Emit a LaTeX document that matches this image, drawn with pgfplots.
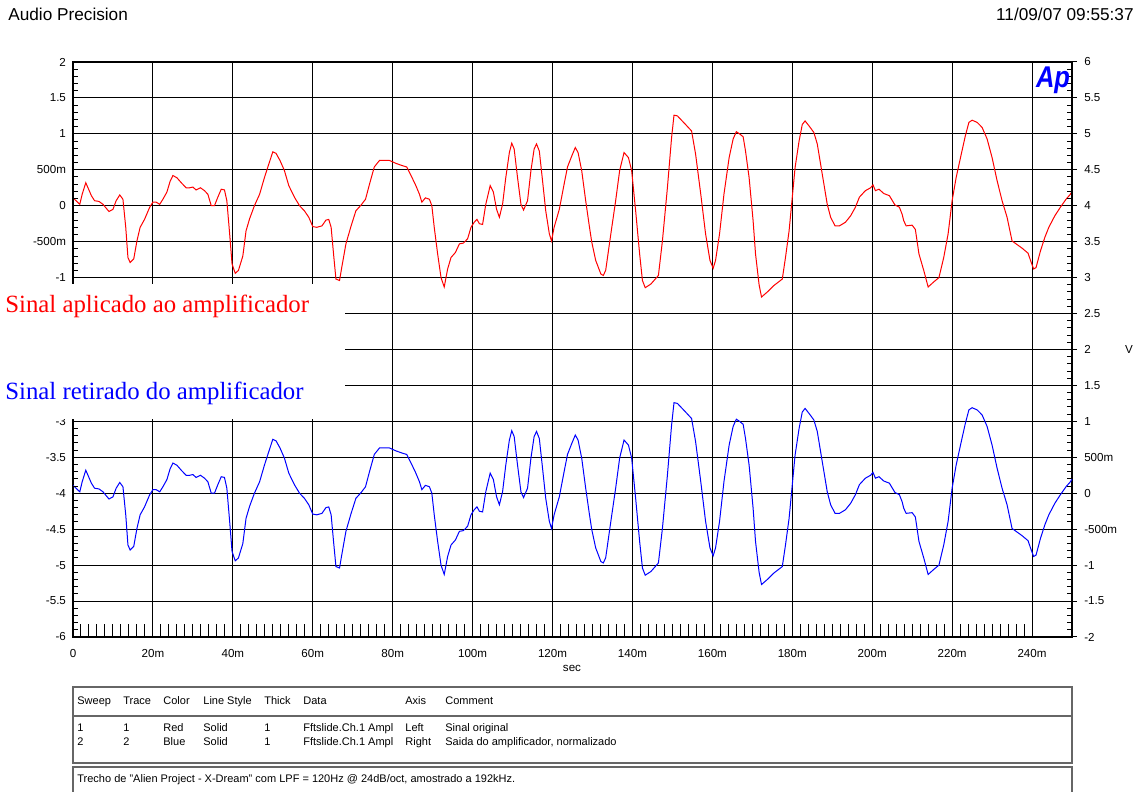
\documentclass[border=0pt]{standalone}
\usepackage{pgfplots}
\pgfplotsset{compat=1.18}
\usepackage{pgfplotstable}
\usepackage{fontspec}
\setmainfont{Liberation Sans}
\newfontfamily\tnr{Liberation Serif}

% t in ms, amplitude in V (same trace for both sweeps)
\pgfplotstableread{
t v
0 0.11
1.7 0.02
2.3 0.16
3.2 0.32
3.75 0.25
4.6 0.14
5.4 0.07
6.5 0.06
7.5 0.02
9 -0.08
10 -0.05
10.8 0.07
11.7 0.15
12.5 0.09
13.2 -0.30
13.75 -0.72
14.3 -0.79
15.2 -0.74
16 -0.49
16.8 -0.30
17.9 -0.19
19.2 -0.02
20 0.05
20.8 0.05
21.7 0.02
22.5 0.09
23.5 0.19
24.3 0.34
25 0.42
26 0.39
27.1 0.32
28.3 0.25
29.2 0.25
30 0.26
30.8 0.22
31.9 0.25
32.9 0.21
33.75 0.16
34.6 0.0
35.4 0.0
36.25 0.12
37.1 0.23
37.9 0.22
38.5 0.07
39.2 -0.39
39.8 -0.81
40.6 -0.94
41.4 -0.90
42.5 -0.70
43.3 -0.35
44.2 -0.18
45.4 0.0
46.7 0.16
47.9 0.39
49 0.58
50 0.75
50.8 0.73
51.8 0.63
52.9 0.49
54 0.28
55.4 0.12
56.7 0.0
57.9 -0.07
59 -0.16
60 -0.29
61 -0.30
62.3 -0.28
63.3 -0.20
64 -0.19
64.6 -0.30
65.2 -0.67
65.8 -1.02
66.7 -1.04
67.25 -0.86
68.3 -0.53
69.6 -0.28
70.8 -0.07
72.1 0.01
73.2 0.09
74.2 0.30
75.4 0.54
76.7 0.63
77.9 0.63
79.2 0.63
80.8 0.59
82.3 0.56
83.5 0.54
84.6 0.42
85.8 0.28
86.7 0.16
87.3 0.05
88.2 0.11
89.2 0.09
89.8 0.0
90.4 -0.30
91.25 -0.67
92.1 -1.0
92.9 -1.13
93.75 -0.88
94.6 -0.72
95.7 -0.65
96.7 -0.53
97.7 -0.52
98.75 -0.46
99.6 -0.30
100.4 -0.23
101.1 -0.19
101.7 -0.25
102.5 -0.26
103.3 0.02
104.4 0.28
105.2 0.19
106 -0.05
106.7 -0.16
107.5 0.02
108.3 0.39
109.2 0.74
109.8 0.87
110.4 0.79
111.25 0.39
112.1 0.02
112.75 -0.06
113.75 0.07
114.6 0.49
115.4 0.79
116 0.86
116.7 0.76
117.5 0.35
118.3 -0.07
119.2 -0.39
119.75 -0.49
120.4 -0.30
121.7 -0.05
122.9 0.30
123.75 0.54
124.8 0.69
125.7 0.81
126.4 0.74
127.3 0.49
128.3 0.07
129.2 -0.28
129.8 -0.50
130.8 -0.76
132.1 -0.95
132.7 -0.97
133.3 -0.90
134.6 -0.39
135.8 0.07
136.8 0.49
137.9 0.74
139 0.67
139.8 0.49
140.8 -0.07
141.8 -0.67
142.5 -1.04
143.2 -1.14
144.6 -1.09
146.5 -0.97
147.5 -0.49
148.75 0.25
149.8 0.95
150.4 1.26
151.25 1.25
153.3 1.13
154.8 1.04
155.8 0.72
157.1 0.16
158.3 -0.39
159.4 -0.76
160.2 -0.87
160.8 -0.76
161.8 -0.39
162.9 0.16
164.2 0.67
165.2 0.93
166 1.03
166.8 1.0
167.7 0.96
168.3 0.76
169.2 0.39
170.2 -0.21
170.8 -0.67
171.7 -1.10
172.3 -1.27
173.75 -1.20
175.4 -1.11
177.5 -1.02
178.3 -0.72
179.2 -0.35
179.8 0.0
180.7 0.53
181.7 0.90
182.5 1.13
183.2 1.18
184.2 1.11
185.4 1.02
186.25 0.86
187.5 0.44
188.75 0.02
189.6 -0.16
190.7 -0.28
191.8 -0.28
193.3 -0.23
194.6 -0.14
195.8 -0.02
196.8 0.12
198.3 0.21
199.6 0.25
200.2 0.29
200.8 0.21
201.7 0.23
202.9 0.17
204.3 0.14
205.7 0.01
206.8 -0.02
207.5 -0.12
207.9 -0.21
208.5 -0.28
210 -0.27
210.8 -0.33
211.7 -0.67
212.9 -0.90
214 -1.13
215.4 -1.06
216.7 -1.0
217.9 -0.72
219 -0.39
220 0.07
221 0.39
222.1 0.67
223.3 0.97
224.2 1.16
225 1.19
226.25 1.16
227.5 1.09
228.75 0.93
230 0.67
231.25 0.35
232.5 0.07
233.75 -0.16
235 -0.49
236.25 -0.54
237.5 -0.59
239 -0.66
239.8 -0.79
240.4 -0.88
241 -0.86
242.1 -0.63
243.2 -0.44
244.2 -0.30
245.7 -0.14
247.1 -0.02
248.5 0.09
249.6 0.16
250 0.20
}\sig

\begin{document}
\begin{tikzpicture}
\pgfplotsset{
  apbase/.style={
    scale only axis, width=499.5pt, height=287.5pt,
    at={(0,0)}, anchor=south west,
    xmin=0, xmax=250,
    axis line style={black, line width=0.6pt},
    tick style={black, line width=0.5pt},
    tick label style={font=\fontsize{5.8}{7}\selectfont},
    /pgf/number format/assume math mode=true,
  }
}
% left axis: grid + original signal
\begin{axis}[apbase,
  ymin=-6, ymax=2,
  xtick={0,20,...,240},
  xticklabels={0,20m,40m,60m,80m,100m,120m,140m,160m,180m,200m,220m,240m},
  xticklabel style={yshift=-2.5pt},
  ytick={-6,-5.5,-5,-4.5,-4,-3.5,-3,-2.5,-2,-1.5,-1,-0.5,0,0.5,1,1.5,2},
  yticklabels={-6,-5.5,-5,-4.5,-4,-3.5,-3,,,,-1,-500m,0,500m,1,1.5,2},
  xtick pos=left, ytick pos=left,
  tick align=inside,
  major tick length=0pt,
  grid=major,
  major grid style={black, line width=0.5pt},
]
\addplot[red, line width=0.5pt] table[x=t, y=v] {\sig};
\end{axis}
% right axis: amplifier output
\begin{axis}[apbase,
  ymin=-2, ymax=6,
  hide x axis,
  ytick={-2,-1.5,-1,-0.5,0,0.5,1,1.5,2,2.5,3,3.5,4,4.5,5,5.5,6},
  yticklabels={-2,-1.5,-1,-500m,0,500m,1,1.5,2,2.5,3,3.5,4,4.5,5,5.5,6},
  ytick pos=right, yticklabel pos=right,
  yticklabel style={xshift=2.6pt},
  tick align=inside,
  major tick length=0pt,
]
\addplot[blue, line width=0.5pt] table[x=t, y=v] {\sig};
\end{axis}
% minor ticks of the time axis
\begin{axis}[apbase,
  ymin=0, ymax=1,
  hide y axis,
  xtick={0,20,...,240}, xticklabels={},
  minor x tick num=9,
  xtick pos=left,
  tick align=inside,
  major tick length=0pt, minor tick length=6.5pt,
]
\end{axis}

\begin{scope}[shift={(-36.5pt,318.5pt)}, x=0.5pt, y=-0.5pt]
  % tick combs on both value axes (axis box: x 73..1072, y 62..637)
  \foreach \i in {0,...,80} {
    \pgfmathsetmacro\yy{62+\i*7.1875}
    \pgfmathtruncatemacro\r{mod(\i,5)}
    \ifnum\r=0
      \draw[black, line width=0.5pt] (1072,\yy) -- (1077,\yy);
    \else
      \draw[black, line width=0.5pt] (73,\yy) -- (77.8,\yy);
      \draw[black, line width=0.5pt] (1072,\yy) -- (1067.2,\yy);
    \fi
  }
  % white panel behind the two captions
  \fill[white] (0,284) rectangle (345,419);
  \node[anchor=west, inner sep=0pt, text=red, font=\tnr\fontsize{12.4}{14}\selectfont]
    at (5,306) {Sinal aplicado ao amplificador};
  \node[anchor=west, inner sep=0pt, text=blue, font=\tnr\fontsize{12.4}{14}\selectfont]
    at (5,393) {Sinal retirado do amplificador};
  % header
  \node[anchor=west, inner sep=0pt, font=\fontsize{8.6}{10}\selectfont] at (8,14) {Audio Precision};
  \node[anchor=east, inner sep=0pt, font=\fontsize{8.6}{10}\selectfont] at (1134,14) {11/09/07 09:55:37};
  \node[inner sep=0pt, text=blue, font=\bfseries\itshape\fontsize{15}{17}\selectfont] at (1053,80) {\scalebox{0.85}[1]{Ap}};
  % axis titles
  \node[inner sep=0pt, font=\fontsize{5.8}{7}\selectfont] at (572,668) {sec};
  \node[inner sep=0pt, font=\fontsize{5.8}{7}\selectfont] at (1129,350) {V};
  % sweep table
  \draw[black!60, line width=0.6pt] (73,687) rectangle (1072,763);
  \draw[black!60, line width=0.6pt] (73,716) -- (1072,716);
  \draw[black!60, line width=0.6pt] (73,767) rectangle (1072,800);
  \begin{scope}[every node/.style={anchor=base west, inner sep=0pt, font=\fontsize{5.5}{6.5}\selectfont}]
    \node at (77,705) {Sweep};  \node at (123,705) {Trace}; \node at (163,705) {Color};
    \node at (203,705) {Line Style}; \node at (264,705) {Thick}; \node at (303,705) {Data};
    \node at (405,705) {Axis}; \node at (445,705) {Comment};
    \node at (77,732) {1}; \node at (123,732) {1}; \node at (163,732) {Red};
    \node at (203,732) {Solid}; \node at (264,732) {1}; \node at (303,732) {Fftslide.Ch.1 Ampl};
    \node at (405,732) {Left}; \node at (445,732) {Sinal original};
    \node at (77,746) {2}; \node at (123,746) {2}; \node at (163,746) {Blue};
    \node at (203,746) {Solid}; \node at (264,746) {1}; \node at (303,746) {Fftslide.Ch.1 Ampl};
    \node at (405,746) {Right}; \node at (445,746) {Saida do amplificador, normalizado};
    \node at (77,783) {Trecho de "Alien Project - X-Dream" com LPF = 120Hz @ 24dB/oct, amostrado a 192kHz.};
  \end{scope}
\end{scope}
\pgfresetboundingbox
\useasboundingbox (-36.5pt,-77.5pt) rectangle (533.5pt,318.5pt);
\end{tikzpicture}
\end{document}
